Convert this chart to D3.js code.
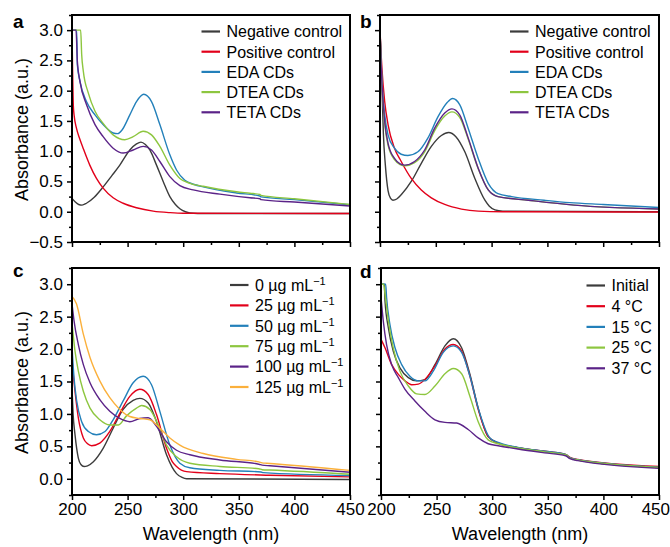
<!DOCTYPE html>
<html><head><meta charset="utf-8">
<script src="https://cdn.jsdelivr.net/npm/d3@7"></script>
<style>
html,body{margin:0;padding:0;background:#fff;}
svg{display:block;font-family:"Liberation Sans",Arial,Helvetica,sans-serif;}
</style></head>
<body><svg id="chart" width="670" height="547"></svg>
<script>
// ---------- data: [wavelength (nm), absorbance (a.u.)] ----------
const aNames = ["Negative control","Positive control","EDA CDs","DTEA CDs","TETA CDs"];
const aNeg = [[200,0.22],[203,0.16],[206,0.12],[209,0.11],[213,0.14],[220,0.24],[228,0.41],[236,0.6],[243,0.77],[252,1.02],[258,1.12],[262,1.15],[266,1.11],[270,1.02],[276,0.77],[282,0.50],[288,0.25],[293,0.12],[297,0.05],[302,0.0],[306,-0.02],[320,-0.03],[450,-0.03]];
const aPos = [[200,3.0],[200.5,2.4],[201.2,1.75],[202,1.58],[204,1.38],[207,1.2],[210,1.05],[216,0.77],[222,0.55],[228,0.39],[237,0.23],[246,0.14],[258,0.066],[273,0.01],[288,-0.015],[300,-0.025],[450,-0.03]];
const aEDA = [[200,3.0],[204.2,3.0],[204.8,2.43],[207.2,2.15],[213,1.82],[220.7,1.60],[228,1.44],[237,1.30],[241,1.29],[245,1.35],[252,1.60],[258,1.82],[264.5,1.94],[271.5,1.82],[279,1.44],[288,0.94],[294,0.69],[301.5,0.52],[310,0.45],[318,0.41],[348,0.31],[369,0.26],[370,0.245],[400,0.2],[450,0.115]];
const aDTEA = [[200,3.0],[207.8,3.0],[208.7,2.6],[210.2,2.32],[214.7,1.96],[220.7,1.66],[228,1.46],[237,1.27],[247.5,1.19],[255,1.24],[264,1.33],[271.5,1.27],[279,1.08],[288,0.77],[297,0.55],[306,0.47],[318,0.42],[348,0.33],[360,0.305],[369,0.285],[370,0.27],[400,0.215],[450,0.12]];
const aTETA = [[200,3.0],[203.6,3.0],[204.8,2.49],[207.2,2.15],[213,1.77],[220.7,1.44],[228,1.24],[237,1.05],[246,0.97],[255,1.02],[264,1.08],[271.5,1.02],[279,0.83],[288,0.58],[297,0.43],[309,0.36],[333,0.29],[360,0.23],[369,0.215],[370,0.2],[400,0.16],[450,0.095]];

const bNeg = [[200,3.0],[200.8,2.6],[202,1.9],[203,1.3],[204.8,0.77],[207.2,0.35],[209.5,0.22],[211.6,0.19],[215,0.21],[219,0.28],[228,0.50],[237,0.80],[246,1.08],[255,1.26],[261.5,1.31],[268,1.24],[276,0.99],[285,0.55],[294,0.19],[298,0.09],[303,0.03],[310,0.01],[450,0.0]];
const bPos = [[200,3.0],[201,2.6],[201.8,2.35],[204.2,1.82],[207.2,1.44],[213,1.05],[219,0.83],[228,0.55],[237,0.36],[246,0.23],[258,0.12],[273,0.044],[288,0.01],[310,0.0],[450,-0.005]];
const bEDA = [[200,3.0],[200.8,2.6],[201.8,2.15],[204.2,1.60],[207.2,1.27],[213,1.05],[219,0.95],[225,0.93],[234,0.99],[243,1.22],[252,1.57],[260,1.80],[265,1.87],[271.4,1.77],[279,1.38],[288,0.88],[297,0.47],[305.7,0.30],[318,0.25],[347,0.19],[370,0.15],[400,0.12],[450,0.07]];
const bDTEA = [[200,3.0],[200.8,2.5],[201.8,2.08],[204.2,1.46],[207.2,1.10],[213,0.86],[218,0.78],[222.5,0.76],[231,0.81],[240,0.99],[249,1.34],[258,1.58],[264.5,1.65],[271.4,1.56],[279,1.20],[288,0.71],[297,0.36],[305.7,0.25],[333,0.19],[374,0.11],[450,0.045]];
const bTETA = [[200,3.0],[200.8,2.5],[201.8,2.1],[204.2,1.49],[207.2,1.13],[213,0.88],[218,0.79],[222,0.77],[231,0.83],[240,1.02],[249,1.38],[258,1.63],[264.5,1.70],[271.4,1.60],[279,1.22],[288,0.72],[297,0.36],[305.7,0.25],[333,0.19],[374,0.11],[450,0.045]];

const cNames = ["0","25","50","75","100","125"];
const c0 = [[200,1.4],[201,1.0],[202.7,0.68],[205.7,0.32],[208,0.22],[210.8,0.19],[214,0.2],[219,0.26],[228,0.47],[237,0.78],[246,1.07],[255,1.21],[261,1.24],[268.5,1.17],[276,0.88],[285,0.37],[290,0.18],[294,0.08],[299,0.02],[303,0.0],[450,-0.01]];
const c25 = [[200,1.85],[201.2,1.6],[202.7,1.35],[205.7,0.94],[210.2,0.63],[214,0.54],[217.7,0.51],[225,0.55],[234,0.73],[243,1.01],[252,1.27],[261,1.38],[268.5,1.30],[276,0.99],[285,0.47],[290,0.27],[294,0.19],[303,0.11],[333,0.08],[378,0.055],[450,0.03]];
const c50 = [[200,2.05],[201,1.75],[201.8,1.56],[204.2,1.20],[208.7,0.88],[214.7,0.73],[222,0.68],[229.7,0.73],[237,0.91],[246,1.20],[255,1.48],[264,1.58],[271.5,1.45],[279,1.04],[288,0.52],[297,0.24],[306,0.17],[333,0.13],[370,0.105],[372,0.095],[450,0.05]];
const c75 = [[200,2.4],[202.7,1.97],[205.7,1.66],[210.2,1.35],[216.2,1.09],[225,0.91],[234,0.83],[241.7,0.83],[249,0.97],[258,1.09],[262.6,1.13],[270,1.07],[277.6,0.83],[285,0.52],[294,0.34],[306,0.24],[333,0.19],[368,0.155],[371,0.14],[378,0.135],[450,0.07]];
const c100 = [[200,2.7],[201.8,2.44],[205.7,2.07],[210.2,1.76],[216.2,1.48],[225,1.22],[234,1.04],[243,0.93],[252,0.88],[261,0.93],[268.5,0.94],[276,0.81],[285,0.57],[294,0.44],[306,0.37],[333,0.29],[368,0.225],[371,0.21],[378,0.2],[450,0.10]];
const c125 = [[200,2.81],[204,2.70],[210.2,2.23],[216.2,1.87],[225,1.51],[234,1.25],[243,1.07],[252,0.96],[261,0.93],[270,0.91],[279,0.78],[288,0.63],[297,0.52],[318,0.39],[348,0.30],[368,0.26],[371,0.245],[375,0.24],[450,0.13]];

const dNames = ["Initial","4 °C","15 °C","25 °C","37 °C"];
const dInit = [[200,3.0],[203,3.0],[203.6,2.75],[206.6,2.33],[211,1.97],[217,1.71],[224.6,1.56],[232,1.51],[239.5,1.53],[248.5,1.76],[257.5,2.05],[265,2.16],[272.5,2.02],[280,1.61],[287.4,1.09],[296.4,0.65],[305.4,0.55],[323,0.48],[347,0.42],[366,0.37],[370,0.32],[377,0.29],[450,0.175]];
const d4 = [[200,2.15],[203.6,2.02],[209.6,1.76],[215.6,1.61],[221.6,1.51],[227.5,1.45],[233.5,1.46],[241,1.56],[248.5,1.74],[257.5,2.0],[265,2.07],[272.5,1.97],[280,1.58],[287.4,1.07],[296.4,0.65],[305.4,0.55],[323,0.48],[347,0.425],[366,0.375],[370,0.33],[377,0.30],[450,0.19]];
const d15 = [[200,3.0],[204.2,3.0],[205,2.80],[208,2.38],[212.6,2.02],[218.6,1.76],[226,1.58],[233.5,1.51],[239.5,1.51],[247,1.66],[256,1.95],[265,2.05],[272.5,1.95],[280,1.58],[287.4,1.09],[297.9,0.63],[305.4,0.56],[323,0.485],[347,0.425],[366,0.375],[370,0.325],[377,0.295],[450,0.18]];
const d25 = [[200,3.0],[202.4,3.0],[203.6,2.85],[206.6,2.44],[211,2.02],[217,1.66],[224.6,1.43],[232,1.31],[239.5,1.30],[248.5,1.43],[257.5,1.62],[265,1.70],[272.5,1.62],[280,1.27],[287.4,0.88],[296.4,0.60],[305.4,0.54],[323,0.475],[347,0.415],[366,0.37],[370,0.32],[377,0.29],[450,0.175]];
const d37 = [[200,2.80],[202,2.44],[205,2.07],[209.6,1.76],[215.6,1.56],[221.6,1.38],[230.5,1.20],[239.5,1.04],[248.5,0.91],[257.5,0.87],[268,0.86],[278.4,0.76],[287.4,0.63],[296.4,0.54],[305.4,0.51],[323,0.46],[347,0.40],[366,0.355],[370,0.31],[377,0.28],[450,0.16]];

const xTicks = [200,250,300,350,400,450];
const yTicksTop = [-0.5,0,0.5,1,1.5,2,2.5,3];
const yTicksBottom = [0,0.5,1,1.5,2,2.5,3];
const colors5 = ["#3c3c3c","#e2001a","#2380ba","#8dc63f","#5b2388"];
const colors6 = ["#3c3c3c","#e2001a","#2380ba","#8dc63f","#5b2388","#fbb03b"];

// ---------- layout ----------
const panels = [
  {letter:"a", px:13, py:28, x0:72, x1:350, y0:15, y1:242, ymin:-0.5, yt:yTicksTop, data:[aNeg,aPos,aEDA,aDTEA,aTETA], names:aNames, colors:colors5, sup:false, showY:true, showX:false, lx:201.5, ly:31.5, ldy:20.2, lw:18.5},
  {letter:"b", px:360, py:28, x0:380, x1:659, y0:15, y1:242, ymin:-0.5, yt:yTicksTop, data:[bNeg,bPos,bEDA,bDTEA,bTETA], names:aNames, colors:colors5, sup:false, showY:false, showX:false, lx:510, ly:31.5, ldy:20.2, lw:18.5},
  {letter:"c", px:13, py:277, x0:72, x1:350, y0:268, y1:495, ymin:-0.25, yt:yTicksBottom, data:[c0,c25,c50,c75,c100,c125], names:cNames, colors:colors6, sup:true, showY:true, showX:true, lx:230, ly:285, ldy:20.4, lw:18.5},
  {letter:"d", px:360, py:278, x0:381, x1:659, y0:268, y1:495, ymin:-0.25, yt:yTicksBottom, data:[dInit,d4,d15,d25,d37], names:dNames, colors:colors5, sup:false, showY:false, showX:true, lx:586.5, ly:285.5, ldy:20.7, lw:18.5}
];

const svg = d3.select("#chart");
const defs = svg.append("defs");

panels.forEach((p,i)=>{
  const x = d3.scaleLinear().domain([200,450]).range([p.x0,p.x1]);
  const y = d3.scaleLinear().domain([p.ymin,3.25]).range([p.y1,p.y0]);
  const g = svg.append("g");

  defs.append("clipPath").attr("id","clip"+i).append("rect")
    .attr("x",p.x0).attr("y",p.y0).attr("width",p.x1-p.x0).attr("height",p.y1-p.y0);

  const line = d3.line().x(d=>x(d[0])).y(d=>y(d[1])).curve(d3.curveMonotoneX);
  const lines = g.append("g").attr("clip-path","url(#clip"+i+")");
  p.data.forEach((s,k)=>{
    lines.append("path").datum(s).attr("d",line)
      .attr("fill","none").attr("stroke",p.colors[k]).attr("stroke-width",1.4)
      .attr("stroke-linejoin","round");
  });

  // y axis
  const yMinor = d3.range(p.ymin, 3.2501, 0.25).filter(v=>!p.yt.some(t=>Math.abs(t-v)<1e-6));
  const yAx = d3.axisLeft(y).tickValues(p.yt).tickSize(5).tickPadding(4)
     .tickFormat(p.showY ? d3.format(".1f") : "");
  g.append("g").attr("transform",`translate(${p.x0},0)`).call(yAx);
  g.append("g").attr("transform",`translate(${p.x0},0)`)
     .call(d3.axisLeft(y).tickValues(yMinor).tickSize(3).tickFormat(""))
     .call(s=>s.select(".domain").remove());
  // x axis
  const xMinor = d3.range(225,450,50);
  const xa = g.append("g").attr("transform",`translate(0,${p.y1})`)
     .call(d3.axisBottom(x).tickValues(xTicks).tickSize(5).tickPadding(3)
       .tickFormat(p.showX ? d3.format("d") : ""));
  g.append("g").attr("transform",`translate(0,${p.y1})`)
     .call(d3.axisBottom(x).tickValues(xMinor).tickSize(3).tickFormat(""))
     .call(s=>s.select(".domain").remove());
  g.selectAll(".domain").remove();
  g.selectAll(".tick line").attr("stroke","#000").attr("stroke-width",1.5);
  g.selectAll(".tick text").attr("fill","#000").style("font-size","17px");
  if (p.letter === "d") {
    // last label sits at the page edge, as in the reference
    xa.selectAll(".tick text").filter(d=>d===450).attr("text-anchor","end").attr("x",10.5);
  }

  // frame
  g.append("rect").attr("x",p.x0).attr("y",p.y0).attr("width",p.x1-p.x0).attr("height",p.y1-p.y0)
    .attr("fill","none").attr("stroke","#000").attr("stroke-width",2);

  // panel letter
  svg.append("text").attr("x",p.px).attr("y",p.py)
    .text(p.letter).style("font-size","19px").style("font-weight","bold");

  // axis titles
  if (p.showY) {
    svg.append("text").attr("transform",`translate(28,${(p.y0+p.y1)/2+1}) rotate(-90)`)
      .attr("text-anchor","middle").style("font-size","18px").text("Absorbance (a.u.)");
  }
  if (p.showX) {
    svg.append("text").attr("x",(p.x0+p.x1)/2).attr("y",540)
      .attr("text-anchor","middle").style("font-size","18px").text("Wavelength (nm)");
  }

  // legend
  const lg = svg.append("g");
  p.names.forEach((n,k)=>{
    const yy = p.ly + k*p.ldy;
    lg.append("line").attr("x1",p.lx).attr("x2",p.lx+p.lw).attr("y1",yy).attr("y2",yy)
      .attr("stroke",p.colors[k]).attr("stroke-width",2.2);
    const t = lg.append("text").attr("x",p.lx+p.lw+6.5).attr("y",yy+5.8).style("font-size","16px");
    if (p.sup) {
      t.append("tspan").text(n+" µg mL");
      t.append("tspan").attr("dy",-6).style("font-size","11px").text("−1");
    } else {
      t.text(n);
    }
  });
});
</script></body></html>
